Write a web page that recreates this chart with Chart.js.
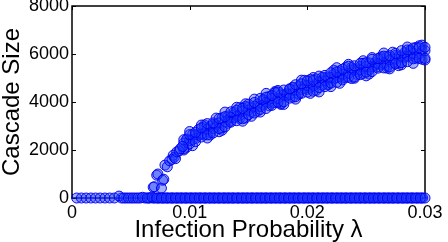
<!DOCTYPE html>
<html>
<head>
<meta charset="utf-8">
<title>Cascade Size vs Infection Probability</title>
<script src="https://cdn.jsdelivr.net/npm/chart.js@4.4.0/dist/chart.umd.min.js"></script>
<style>
  html, body { margin: 0; padding: 0; background: #fff; }
  #wrap { width: 448px; height: 242px; }
</style>
</head>
<body>
<div id="wrap"><canvas id="chart" width="448" height="242"></canvas></div>
<script>
// Tick labels
const xTickLabels = ['0', '0.01', '0.02', '0.03'];
const yTickLabels = ['0', '2000', '4000', '6000', '8000'];

// Runs that never took off (cascade size ~ 0)
const zeroLambdaA = [
    0.0004, 0.0008, 0.0012, 0.0016, 0.0020, 0.0024, 0.0028, 0.0032, 0.0036, 0.0040, 0.0044, 0.0048, 0.0052, 0.0056, 0.0060,
    0.0064, 0.0068, 0.0072, 0.0076, 0.0080, 0.0084, 0.0088, 0.0092, 0.0096, 0.0100, 0.0104, 0.0108, 0.0112, 0.0116, 0.0120,
    0.0124, 0.0128, 0.0132, 0.0136, 0.0140, 0.0144, 0.0148, 0.0152, 0.0156, 0.0160, 0.0164, 0.0168, 0.0172, 0.0176, 0.0180,
    0.0184, 0.0188, 0.0192, 0.0196, 0.0200, 0.0204, 0.0208, 0.0212, 0.0216, 0.0220, 0.0224, 0.0228, 0.0232, 0.0236, 0.0240,
    0.0244, 0.0248, 0.0252, 0.0256, 0.0260, 0.0264, 0.0268, 0.0272, 0.0276, 0.0280, 0.0284, 0.0288, 0.0292, 0.0296, 0.0300
];
const zeroSizeA = [
    0, 0, 0, 0, 0, 0, 0, 0, 0, 80, 0, 0, 0, 0, 30,
    0, 40, 0, 0, 0, 0, 0, 0, 0, 0, 0, 0, 0, 0, 0,
    0, 0, 0, 0, 0, 0, 0, 0, 0, 0, 0, 0, 0, 0, 0,
    0, 0, 0, 0, 0, 0, 0, 0, 0, 0, 0, 0, 0, 0, 0,
    0, 0, 0, 0, 0, 0, 0, 0, 0, 0, 0, 0, 0, 0, 0
];
const zeroLambdaB = [
    0.0042, 0.0046, 0.0050, 0.0054, 0.0058, 0.0062, 0.0066, 0.0070, 0.0074, 0.0078, 0.0082, 0.0086, 0.0090,
    0.0094, 0.0098, 0.0102, 0.0106, 0.0110, 0.0114, 0.0118, 0.0122, 0.0126, 0.0130, 0.0134, 0.0138, 0.0142,
    0.0146, 0.0150, 0.0154, 0.0158, 0.0162, 0.0166, 0.0170, 0.0174, 0.0178, 0.0182, 0.0186, 0.0190, 0.0194,
    0.0198, 0.0202, 0.0206, 0.0210, 0.0214, 0.0218, 0.0222, 0.0226, 0.0230, 0.0234, 0.0238, 0.0242, 0.0246,
    0.0250, 0.0254, 0.0258, 0.0262, 0.0266, 0.0270, 0.0274, 0.0278, 0.0282, 0.0286, 0.0290, 0.0294, 0.0298
];
const zeroSizeB = [
    0, 0, 0, 0, 0, 0, 0, 0, 0, 0, 0, 0, 0,
    0, 0, 0, 0, 0, 0, 0, 0, 0, 0, 0, 0, 0,
    0, 0, 0, 0, 0, 0, 0, 0, 0, 0, 0, 0, 0,
    0, 0, 0, 0, 0, 0, 0, 0, 0, 0, 0, 0, 0,
    0, 0, 0, 0, 0, 0, 0, 0, 0, 0, 0, 0, 0
];
const zeroLambdaC = [
    0.0065, 0.0069, 0.0073, 0.0077, 0.0081, 0.0085, 0.0089, 0.0093, 0.0097, 0.0101, 0.0105, 0.0109, 0.0113, 0.0117, 0.0121,
    0.0125, 0.0129, 0.0133, 0.0137, 0.0141, 0.0145, 0.0149, 0.0153, 0.0157, 0.0161, 0.0165, 0.0169, 0.0173, 0.0177, 0.0181,
    0.0185, 0.0189, 0.0193, 0.0197, 0.0201, 0.0205, 0.0209, 0.0213, 0.0217, 0.0221, 0.0225, 0.0229, 0.0233, 0.0237, 0.0241,
    0.0245, 0.0249, 0.0253, 0.0257, 0.0261, 0.0265, 0.0269, 0.0273, 0.0277, 0.0281, 0.0285, 0.0289, 0.0293, 0.0297
];
const zeroSizeC = [
    0, 0, 0, 0, 0, 0, 0, 0, 0, 0, 0, 0, 0, 0, 0,
    0, 0, 0, 0, 0, 0, 0, 0, 0, 0, 0, 0, 0, 0, 0,
    0, 0, 0, 0, 0, 0, 0, 0, 0, 0, 0, 0, 0, 0, 0,
    0, 0, 0, 0, 0, 0, 0, 0, 0, 0, 0, 0, 0, 0
];

// Transition region near the epidemic threshold
const transLambda = [0.0069, 0.0070, 0.0072, 0.0073, 0.0076, 0.0077, 0.0078, 0.0079, 0.0081, 0.0083, 0.0085, 0.0086, 0.0087, 0.0088, 0.0089, 0.0091, 0.0092, 0.0094];
const transSize   = [450,    470,    950,    1000,   410,    740,    780,    1370,   1300,   1550,   1610,   1780,   1700,   1640,   1920,   1960,   2050,   2150];

// Supercritical branch, four runs per lambda
const lambdas = [
    0.0095, 0.0100, 0.0105, 0.0110, 0.0115, 0.0120, 0.0125, 0.0130, 0.0135, 0.0140, 0.0145, 0.0150, 0.0155, 0.0160,
    0.0165, 0.0170, 0.0175, 0.0180, 0.0185, 0.0190, 0.0195, 0.0200, 0.0205, 0.0210, 0.0215, 0.0220, 0.0225, 0.0230,
    0.0235, 0.0240, 0.0245, 0.0250, 0.0255, 0.0260, 0.0265, 0.0270, 0.0275, 0.0280, 0.0285, 0.0290, 0.0295, 0.0300
];
const runA = [
    2430, 2640, 2730, 2920, 3100, 3130, 3310, 3390, 3590, 3660, 3740, 3910, 3980, 4150,
    4200, 4270, 4420, 4500, 4550, 4720, 4760, 4880, 4910, 5080, 5110, 5220, 5260, 5370,
    5490, 5510, 5610, 5640, 5780, 5810, 5910, 5930, 6030, 6140, 6170, 6250, 6260, 6280
];
const runB = [
    2050, 2260, 2350, 2540, 2630, 2710, 2890, 2960, 3160, 3220, 3300, 3470, 3540, 3690,
    3730, 3860, 3990, 4010, 4160, 4220, 4360, 4410, 4450, 4600, 4640, 4790, 4820, 4920,
    5030, 5040, 5140, 5240, 5270, 5410, 5420, 5460, 5600, 5640, 5680, 5800, 5820, 5820
];
const runC = [
    2290, 2390, 2640, 2670, 2870, 2900, 3130, 3180, 3360, 3410, 3630, 3660, 3820, 3810,
    3990, 4140, 4140, 4290, 4320, 4500, 4530, 4690, 4660, 4830, 4880, 5030, 5020, 5160,
    5190, 5350, 5350, 5490, 5460, 5600, 5620, 5760, 5790, 5920, 5910, 6030, 6010, 6140
];
const runD = [
    2000, 2770, 2480, 3040, 2500, 3060, 2760, 3580, 3210, 3780, 3200, 3790, 4120, 3580,
    4360, 3950, 4480, 3900, 4520, 4120, 4910, 4530, 5020, 4420, 5020, 4640, 5430, 5000,
    5570, 4990, 5480, 5090, 5850, 5470, 6040, 5380, 5940, 5550, 6290, 5610, 6340, 5750
];

// Same branch, lambdas in between, three more runs
const lambdasMid = [
    0.00975, 0.01025, 0.01075, 0.01125, 0.01175, 0.01225, 0.01275, 0.01325, 0.01375, 0.01425, 0.01475, 0.01525, 0.01575, 0.01625,
    0.01675, 0.01725, 0.01775, 0.01825, 0.01875, 0.01925, 0.01975, 0.02025, 0.02075, 0.02125, 0.02175, 0.02225, 0.02275, 0.02325,
    0.02375, 0.02425, 0.02475, 0.02525, 0.02575, 0.02625, 0.02675, 0.02725, 0.02775, 0.02825, 0.02875, 0.02925, 0.02975
];
const runE = [
    2455, 2440, 2850, 2635, 2985, 2960, 3340, 3115, 3470, 3445, 3815, 3575, 3910, 3870,
    4230, 3975, 4300, 4260, 4615, 4355, 4675, 4620, 4960, 4695, 5010, 4955, 5300, 5030,
    5340, 5275, 5610, 5335, 5635, 5565, 5895, 5615, 5915, 5840, 6160, 5865, 6140
];
const runF = [
    2115, 2650, 2610, 3045, 2625, 3060, 2920, 3415, 3350, 3765, 3335, 3765, 3610, 4080,
    3990, 4385, 3940, 4360, 4195, 4655, 4555, 4940, 4480, 4885, 4710, 5165, 5060, 5440,
    4980, 5375, 5190, 5635, 5515, 5885, 5415, 5805, 5615, 6050, 5920, 6275, 5780
];
const runG = [
    2435, 2180, 2640, 2965, 2715, 3330, 2820, 3255, 3570, 3315, 3925, 3405, 3820, 4110,
    3840, 4435, 3900, 4310, 4595, 4315, 4905, 4360, 4750, 5025, 4740, 5325, 4780, 5170,
    5440, 5145, 5720, 5165, 5545, 5805, 5505, 6075, 5515, 5890, 6140, 5825, 6370
];

const toPoints = (xs, ys) => xs.map((x, i) => ({ x: x, y: ys[i] }));

const FONT = "'Liberation Sans', Arial, Helvetica, sans-serif";

const pointStyle = {
    showLine: false,
    pointRadius: 5,
    pointHoverRadius: 5,
    pointBorderWidth: 1,
    pointBackgroundColor: 'rgba(30, 60, 255, 0.4)',
    pointBorderColor: 'rgba(0, 0, 240, 0.95)',
    clip: false
};

// MATLAB-ish box with inward ticks on every side
const boxPlugin = {
    id: 'boxPlugin',
    beforeDatasetsDraw: (chart) => {
        const { ctx, chartArea: a, scales } = chart;
        const len = 4;
        ctx.save();
        ctx.strokeStyle = '#000';
        ctx.lineWidth = 1;
        scales.x.ticks.forEach(t => {
            const px = Math.round(scales.x.getPixelForValue(t.value)) + 0.5;
            ctx.beginPath();
            ctx.moveTo(px, a.bottom); ctx.lineTo(px, a.bottom - len);
            ctx.moveTo(px, a.top); ctx.lineTo(px, a.top + len);
            ctx.stroke();
        });
        scales.y.ticks.forEach(t => {
            const py = Math.round(scales.y.getPixelForValue(t.value)) + 0.5;
            ctx.beginPath();
            ctx.moveTo(a.left, py); ctx.lineTo(a.left + len, py);
            ctx.moveTo(a.right, py); ctx.lineTo(a.right - len, py);
            ctx.stroke();
        });
        ctx.lineWidth = 1.5;
        ctx.strokeRect(a.left, a.top, a.right - a.left, a.bottom - a.top);
        ctx.restore();
    }
};

const sets = [
    ['zeroA', zeroLambdaA, zeroSizeA],
    ['zeroB', zeroLambdaB, zeroSizeB],
    ['zeroC', zeroLambdaC, zeroSizeC],
    ['transition', transLambda, transSize],
    ['runA', lambdas, runA],
    ['runB', lambdas, runB],
    ['runC', lambdas, runC],
    ['runD', lambdas, runD],
    ['runE', lambdasMid, runE],
    ['runF', lambdasMid, runF],
    ['runG', lambdasMid, runG]
];

new Chart(document.getElementById('chart'), {
    type: 'scatter',
    data: {
        datasets: sets.map(([label, xs, ys]) => Object.assign({ label: label, data: toPoints(xs, ys) }, pointStyle))
    },
    options: {
        responsive: false,
        animation: false,
        events: [],
        layout: { padding: { left: 0, right: 23, top: 5, bottom: 0 } },
        plugins: {
            legend: { display: false },
            tooltip: { enabled: false }
        },
        scales: {
            x: {
                type: 'linear',
                min: 0,
                max: 0.03,
                grid: { display: false, drawTicks: false },
                border: { display: false },
                ticks: {
                    stepSize: 0.01,
                    padding: 4,
                    color: '#000',
                    maxRotation: 0,
                    font: { family: FONT, size: 18 },
                    callback: (v, i) => xTickLabels[i]
                },
                title: {
                    display: true,
                    text: 'Infection Probability λ',
                    color: '#000',
                    font: { family: FONT, size: 24, lineHeight: 1 },
                    padding: 0
                },
                afterFit: (scale) => {
                    scale.height = 44;
                    scale.paddingLeft = 0;
                    scale.paddingRight = 0;
                }
            },
            y: {
                type: 'linear',
                min: 0,
                max: 8000,
                grid: { display: false, drawTicks: false },
                border: { display: false },
                ticks: {
                    stepSize: 2000,
                    padding: 3,
                    color: '#000',
                    font: { family: FONT, size: 18 },
                    callback: (v, i) => yTickLabels[i]
                },
                title: {
                    display: true,
                    text: 'Cascade Size',
                    color: '#000',
                    font: { family: FONT, size: 24, lineHeight: 1 },
                    padding: 0
                },
                afterFit: (scale) => {
                    scale.width = 72;
                    scale.paddingTop = 0;
                    scale.paddingBottom = 0;
                }
            }
        }
    },
    plugins: [boxPlugin]
});
</script>
</body>
</html>
